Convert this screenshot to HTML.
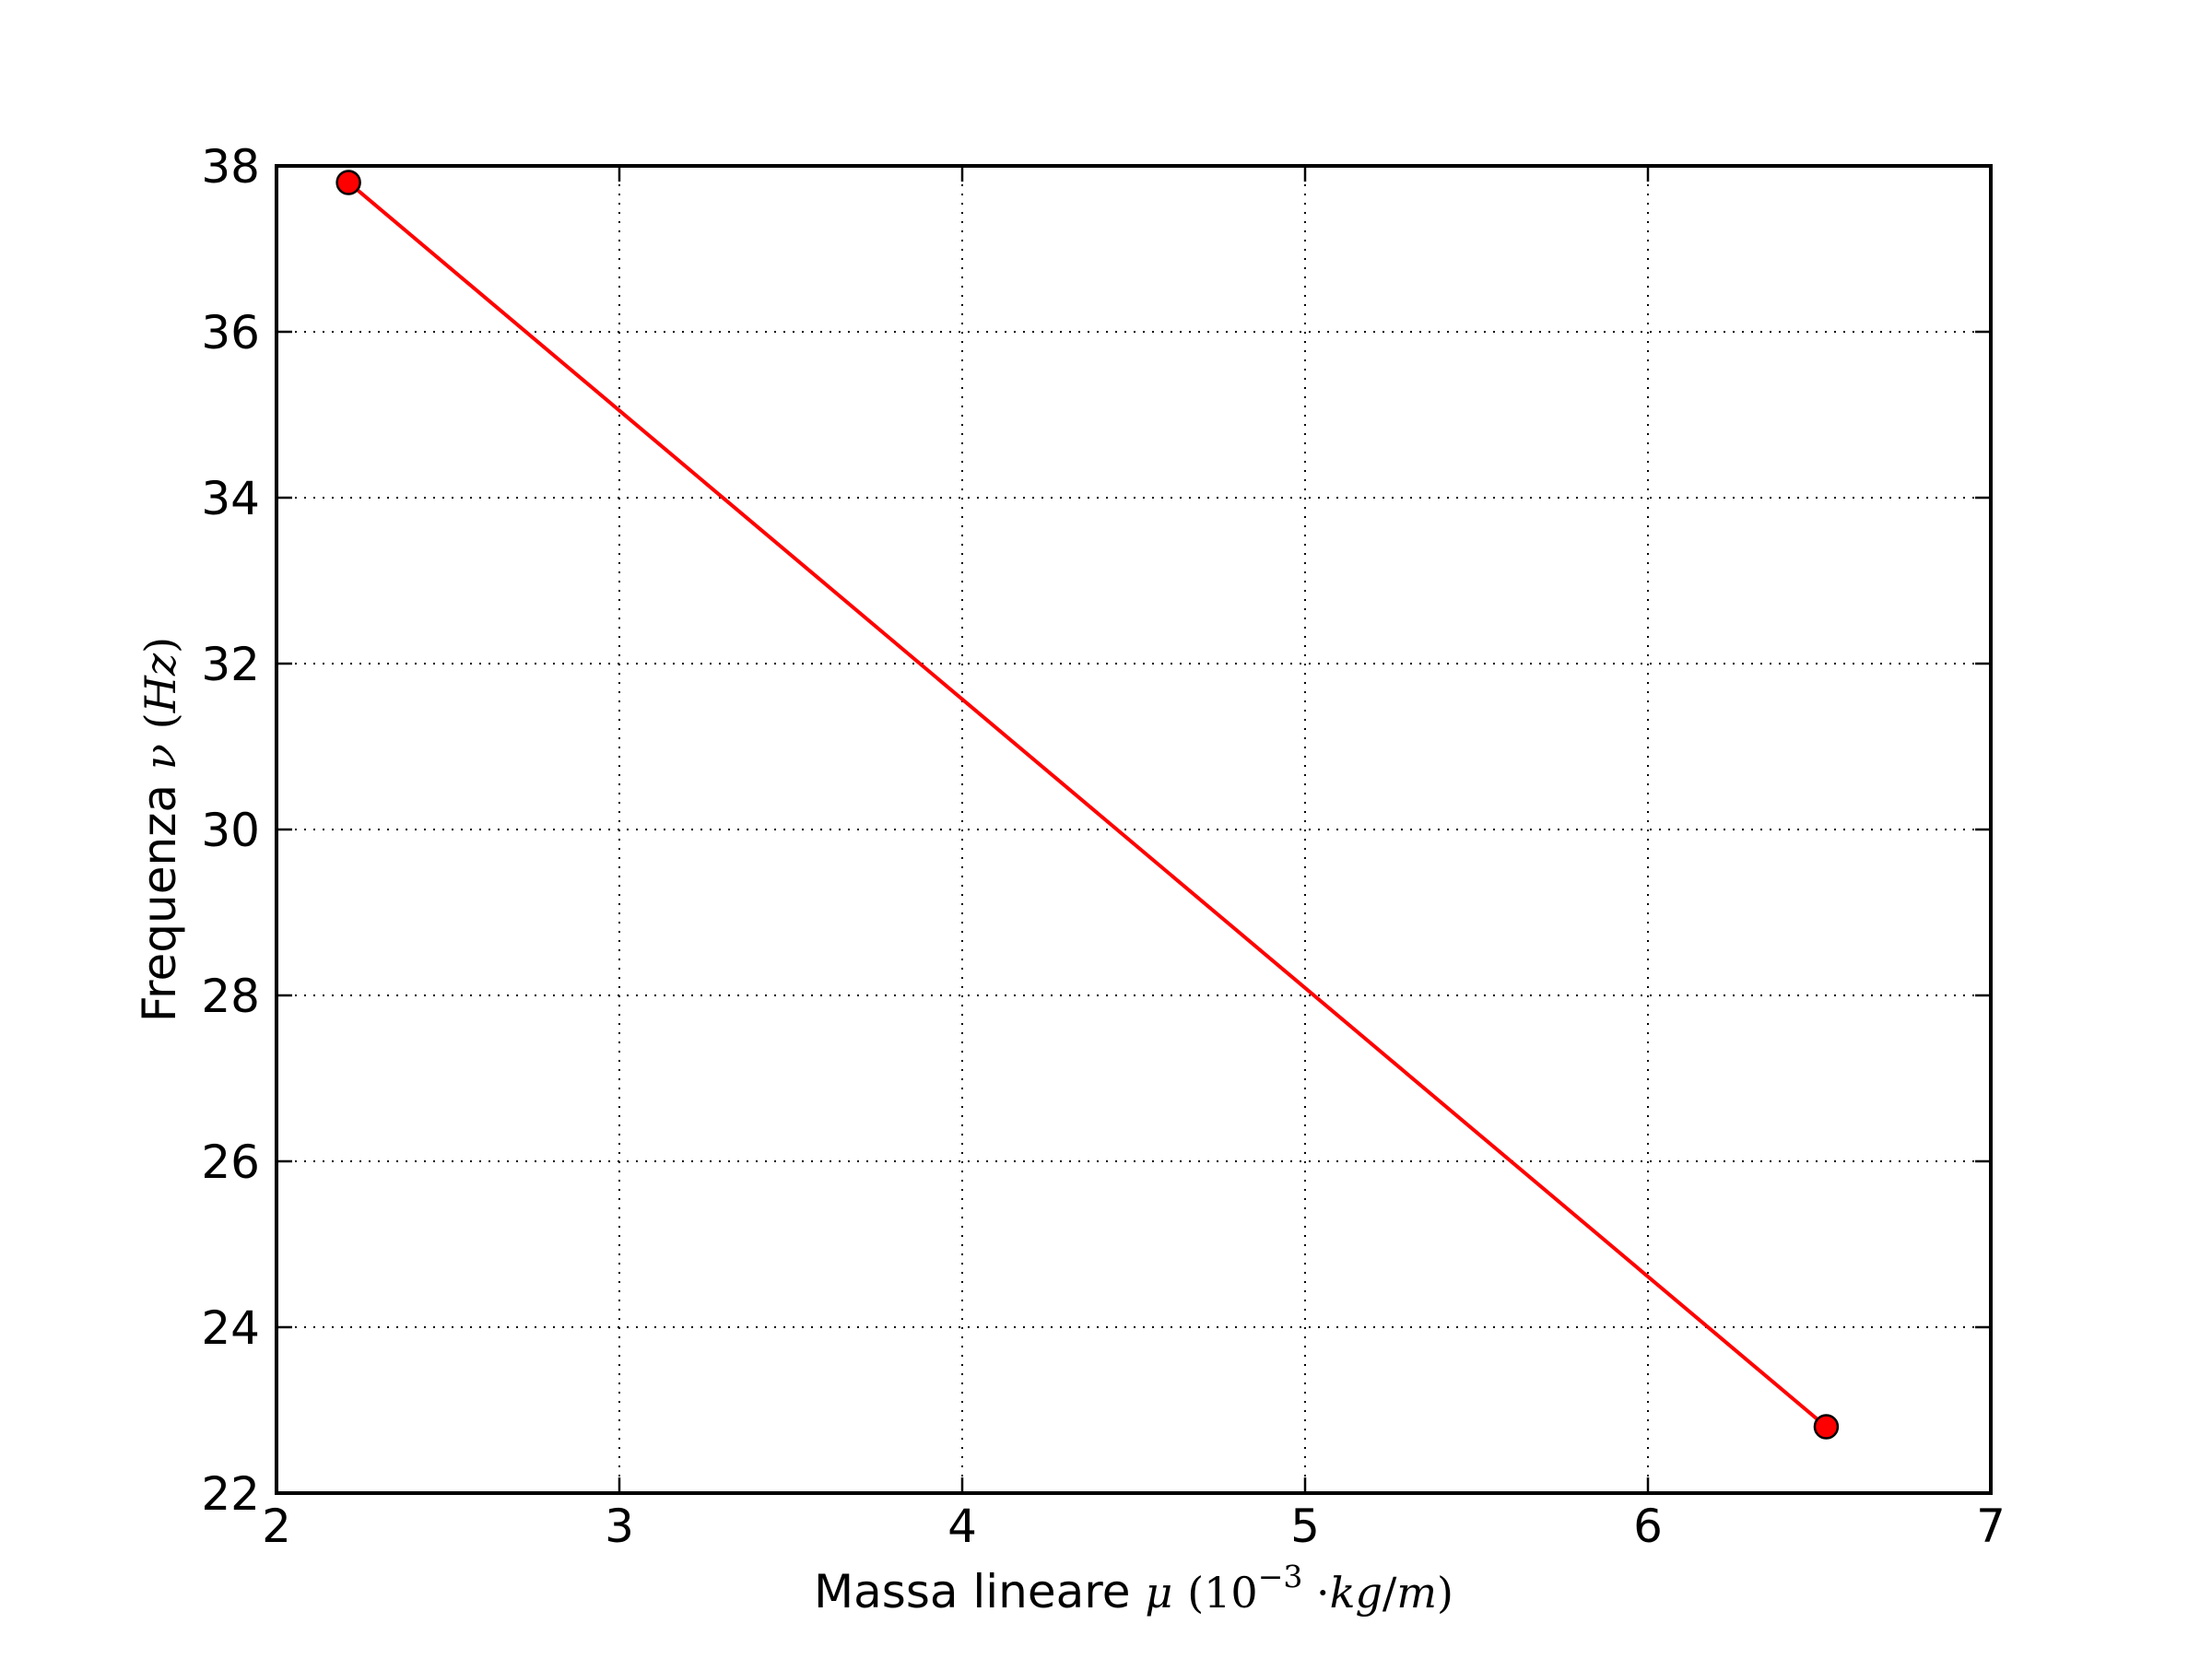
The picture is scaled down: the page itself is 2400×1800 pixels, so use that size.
<!DOCTYPE html>
<html><head><meta charset="utf-8"><style>html,body{margin:0;padding:0;background:#fff}svg{display:block}</style></head>
<body>
<svg id="chart" width="2400" height="1800" xmlns="http://www.w3.org/2000/svg" font-family="'DejaVu Sans','Liberation Sans',sans-serif">
<rect width="2400" height="1800" fill="#fff"/>
<g id="grid"></g>
<g id="ticks"></g>
<g id="series"></g>
<rect x="300" y="180" width="1860" height="1440" fill="none" stroke="#000" stroke-width="4"/>
<text x="1230" y="1744" font-size="50" text-anchor="middle">Massa lineare <tspan font-family="'DejaVu Serif','Liberation Serif',serif" font-style="italic" font-size="46">μ</tspan> <tspan font-family="'DejaVu Serif','Liberation Serif',serif" font-size="46">(10<tspan dy="-22" font-size="33">−3</tspan><tspan dy="22"> ·</tspan><tspan font-style="italic">kg</tspan>/<tspan font-style="italic">m</tspan>)</tspan></text>
<text transform="translate(190,900) rotate(-90)" font-size="50" text-anchor="middle">Frequenza <tspan font-family="'DejaVu Serif','Liberation Serif',serif" font-style="italic" font-size="46">ν</tspan> <tspan font-family="'DejaVu Serif','Liberation Serif',serif" font-size="46">(<tspan font-style="italic">Hz</tspan>)</tspan></text>
</svg>
<script>
const xTicks = [2, 3, 4, 5, 6, 7];
const yTicks = [22, 24, 26, 28, 30, 32, 34, 36, 38];
const massValues = [2.21, 6.52];
const freqValues = [37.8, 22.8];
const NS = 'http://www.w3.org/2000/svg';
const L = 300, R = 2160, T = 180, B = 1620;
const xMin = 2, xMax = 7, yMin = 22, yMax = 38;
const sx = v => L + (v - xMin) / (xMax - xMin) * (R - L);
const sy = v => B - (v - yMin) / (yMax - yMin) * (B - T);
function mk(tag, attrs, parent) {
  const e = document.createElementNS(NS, tag);
  for (const k in attrs) e.setAttribute(k, attrs[k]);
  parent.appendChild(e);
  return e;
}
const grid = document.getElementById('grid');
const ticks = document.getElementById('ticks');
const series = document.getElementById('series');
xTicks.forEach(v => {
  const x = sx(v);
  if (v !== xMin && v !== xMax) {
    const g = mk('line', {x1: x, x2: x, y1: T, y2: B, stroke: '#000', 'stroke-width': 2, 'stroke-dasharray': '2,8'}, grid);
    
    
  }
  const t1 = mk('line', {x1: x, x2: x, y1: B, y2: B - 17, stroke: '#000', 'stroke-width': 2.5}, ticks);
  
  
  const t2 = mk('line', {x1: x, x2: x, y1: T, y2: T + 17, stroke: '#000', 'stroke-width': 2.5}, ticks);
  
  
  const lb = mk('text', {x: x, y: 1673, 'font-size': 50, 'text-anchor': 'middle'}, ticks);
  lb.textContent = v;
  
  
});
yTicks.forEach(v => {
  const y = sy(v);
  if (v !== yMin && v !== yMax) {
    const g = mk('line', {x1: L, x2: R, y1: y, y2: y, stroke: '#000', 'stroke-width': 2, 'stroke-dasharray': '2,8'}, grid);
    
    
  }
  const t1 = mk('line', {x1: L, x2: L + 17, y1: y, y2: y, stroke: '#000', 'stroke-width': 2.5}, ticks);
  
  
  const t2 = mk('line', {x1: R, x2: R - 17, y1: y, y2: y, stroke: '#000', 'stroke-width': 2.5}, ticks);
  
  
  const lb = mk('text', {x: 282, y: y + 18, 'font-size': 50, 'text-anchor': 'end'}, ticks);
  lb.textContent = v;
  
  
});
const pts = massValues.map((m, i) => sx(m) + ',' + sy(freqValues[i])).join(' ');
const line = mk('polyline', {points: pts, fill: 'none', stroke: '#ff0000', 'stroke-width': 4}, series);


massValues.forEach((m, i) => {
  const c = mk('circle', {cx: sx(m), cy: sy(freqValues[i]), r: 12.5, fill: '#ff0000', stroke: '#000', 'stroke-width': 2.5}, series);
  
  
});
</script>
</body></html>
